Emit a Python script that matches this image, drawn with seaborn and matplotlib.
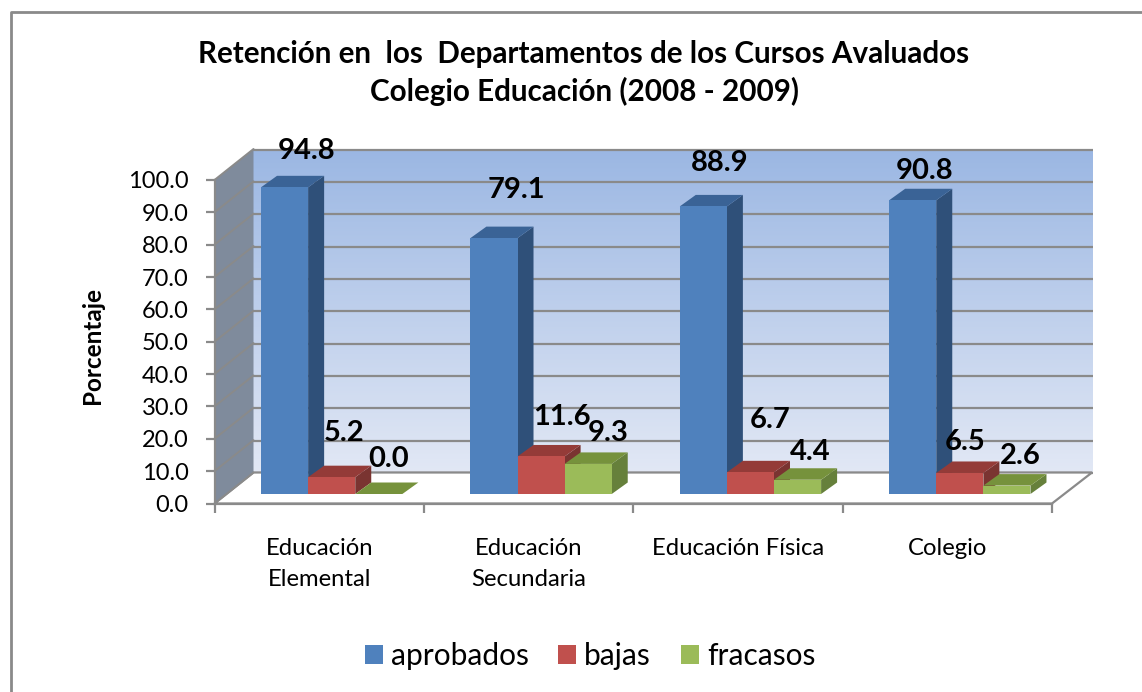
import numpy as np
import pandas as pd
import matplotlib
matplotlib.use("Agg")
import matplotlib.pyplot as plt
import seaborn as sns
from matplotlib.lines import Line2D
from matplotlib.patches import Patch, Polygon
from matplotlib.transforms import Affine2D

departamentos = ["Educación\nElemental", "Educación\nSecundaria", "Educación Física", "Colegio"]
series = ["aprobados", "bajas", "fracasos"]
aprobados = [94.8, 79.1, 88.9, 90.8]
bajas = [5.2, 11.6, 6.7, 6.5]
fracasos = [0.0, 9.3, 4.4, 2.6]

# label offsets from the top of each bar, in pixels (placed by hand in the original)
offsets_aprobados = [(22, 36), (22, 48), (16, 43), (12, 29)]
offsets_bajas = [(12, 44), (21, 39), (20, 52), (5, 31)]
offsets_fracasos = [(10, 35), (20, 31), (13, 28), (13, 30)]

colores = ["#4F81BD", "#C0504D", "#9BBB59"]
lados = ["#2F5079", "#7A3431", "#66803B"]
techos = ["#3A6396", "#943B38", "#76923C"]
GRIS = "#8A8A8A"
W, H = 1142, 692

sns.set_style("white")
plt.rcParams["font.family"] = ["Lato", "DejaVu Sans"]

df = pd.DataFrame({
    "departamento": departamentos * 3,
    "serie": np.repeat(series, 4),
    "pct": aprobados + bajas + fracasos,
})


def box(x0, y_top, x1, y_bottom):
    return [x0 / W, 1 - y_bottom / H, (x1 - x0) / W, (y_bottom - y_top) / H]


fig = plt.figure(figsize=(W / 100, H / 100), dpi=100, facecolor="white")

# back wall with its gradient and grid
wall = fig.add_axes(box(253, 149.5, 1093, 473), zorder=0)
grad = np.linspace(0, 1, 256).reshape(-1, 1)
cmap = matplotlib.colors.LinearSegmentedColormap.from_list("pared", ["#9BB7E3", "#E2E8F5"])
wall.imshow(grad, cmap=cmap, aspect="auto", extent=(0, 1, 0, 100))
wall.set_xlim(0, 1)
wall.set_ylim(0, 100)
wall.hlines(np.arange(0, 101, 10), 0, 1, color=GRIS, lw=1.6, clip_on=False)
wall.axis("off")

ax = fig.add_axes(box(214.5, 180, 1052, 503.5), zorder=1)
ax.patch.set_alpha(0)
sns.barplot(data=df, x="departamento", y="pct", hue="serie", hue_order=series,
            palette=colores, width=0.675, gap=0, saturation=1, legend=False, linewidth=0, ax=ax)
ax.set_xlim(-0.5, 3.5)
ax.set_ylim(0, 100)
bars = list(ax.patches)

# floor and left wall, 3d offset in pixels
dx, dy = 39, 31
pts = lambda x, y: ax.transData.transform((x, y))
p00 = pts(-0.5, 0)
p10 = pts(3.5, 0)
p01 = pts(-0.5, 100)
piso = Polygon([p00, p10, p10 + (dx + 1, dy), p00 + (dx, dy)], closed=True, fc="white", ec=GRIS,
               lw=1.6, transform=None, zorder=0.5, clip_on=False)
ax.add_patch(piso)
lateral = Polygon([p00, p01, p01 + (dx, dy), p00 + (dx, dy)], closed=True, fc="#7F8B9C", ec="none",
                  transform=None, zorder=0.6, clip_on=False)
ax.add_patch(lateral)
for v in range(0, 101, 10):
    a = pts(-0.5, v)
    ax.add_line(Line2D([a[0], a[0] + dx], [a[1], a[1] + dy], color=GRIS, lw=1.4,
                       transform=None, zorder=0.7, clip_on=False))

# turn the flat seaborn bars into boxes
shift = Affine2D().translate(12.5, 9.5)
bar_tr = ax.transData + shift
ox, oy = 16, 11.5
offsets = offsets_aprobados + offsets_bajas + offsets_fracasos
for i, bar in enumerate(bars):
    j = i // 4
    x0, x1 = bar.get_x(), bar.get_x() + bar.get_width()
    top = bar.get_height()
    a = bar_tr.transform((x0, top))
    b = bar_tr.transform((x1, top))
    c = bar_tr.transform((x1, 0))
    z = 3 + j
    bar.set_transform(bar_tr)
    bar.set_zorder(z + 0.2)
    bar.set_clip_on(False)
    ax.add_patch(Polygon([b, c, c + (ox, oy), b + (ox, oy)], closed=True, fc=lados[j], ec="none",
                         transform=None, zorder=z, clip_on=False))
    ax.add_patch(Polygon([a, b, b + (ox, oy), a + (ox, oy)], closed=True, fc=techos[j], ec="none",
                         transform=None, zorder=z + 0.1, clip_on=False))
    ax.annotate(f"{top:.1f}", xy=((x0 + x1) / 2, top), xycoords=bar_tr,
                xytext=(offsets[i][0], offsets[i][1]), textcoords="offset pixels",
                ha="center", va="center", fontsize=21, fontweight="bold", color="black",
                zorder=10, annotation_clip=False)

# axes
sns.despine(ax=ax, top=True, right=True)
for side in ("left", "bottom"):
    ax.spines[side].set_color(GRIS)
    ax.spines[side].set_linewidth(1.6)
    ax.spines[side].set_zorder(1)
ax.set_yticks(np.arange(0, 101, 10))
ax.set_yticklabels([f"{v:.1f}" for v in np.arange(0, 101, 10)], fontsize=17, color="black")
ax.tick_params(axis="y", left=True, length=6.5, width=1.6, color=GRIS, pad=12)
ax.set_xticks(np.arange(-0.5, 4, 1))
ax.set_xticklabels([])
ax.tick_params(axis="x", bottom=True, length=6.5, width=1.6, color=GRIS)
ax.set_xticks(range(4), minor=True)
ax.set_xticklabels(departamentos, minor=True, fontsize=17.2, color="black", linespacing=1.6)
ax.tick_params(axis="x", which="minor", bottom=False, pad=22.5)
ax.set_xlabel("")
ax.set_ylabel("")
ax.grid(False)

fig.text(93 / W, 1 - 345 / H, "Porcentaje", rotation=90, ha="center", va="center",
         fontsize=17.5, fontweight="bold", color="black")
fig.text(584 / W, 1 - 73 / H, "Retención en  los  Departamentos de los Cursos Avaluados\nColegio Educación (2008 - 2009)",
         ha="center", va="center", fontsize=21.3, fontweight="bold", color="black", linespacing=1.35)

handles = [Patch(fc=c, ec="none", label=s) for c, s in zip(colores, series)]
fig.legend(handles=handles, loc="center", bbox_to_anchor=(590 / W, 1 - 656 / H), ncol=3, frameon=False,
           fontsize=21.5, handlelength=0.6, handleheight=0.6, handletextpad=0.27, columnspacing=1.0,
           labelcolor="black")

# chart frame, only top and left fall inside the crop
fig.add_artist(Line2D([10.5 / W, 10.5 / W, 1], [0, 1 - 11.5 / H, 1 - 11.5 / H], color=GRIS, lw=2,
                      transform=fig.transFigure))

fig.savefig("out.png", dpi=100)
